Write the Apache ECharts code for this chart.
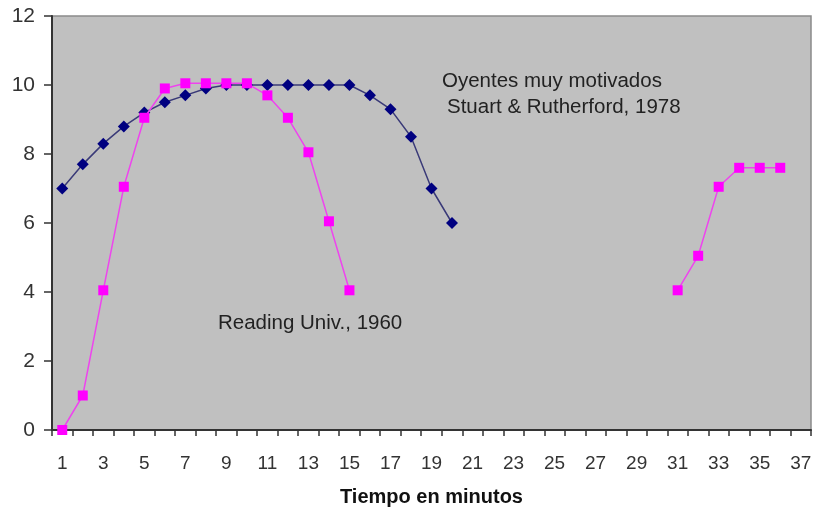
<!DOCTYPE html>
<html>
<head>
<meta charset="utf-8">
<script src="https://cdn.jsdelivr.net/npm/echarts@6/dist/echarts.min.js"></script>
<style>
html,body{margin:0;padding:0;background:#fff;}
#c{width:814px;height:508px;}
</style>
</head>
<body>
<div id="c"></div>
<script>
const minutes = [];
for (let i = 1; i <= 37; i++) minutes.push(String(i));

const motivados = [7.0, 7.7, 8.3, 8.8, 9.2, 9.5, 9.7, 9.9, 10, 10, 10, 10, 10, 10, 10, 9.7, 9.3, 8.5, 7.0, 6.0,
  null, null, null, null, null, null, null, null, null, null, null, null, null, null, null, null, null];

const reading = [0, 1.0, 4.05, 7.05, 9.05, 9.9, 10.05, 10.05, 10.05, 10.05, 9.7, 9.05, 8.05, 6.05, 4.05,
  null, null, null, null, null, null, null, null, null, null, null, null, null, null, null,
  4.05, 5.05, 7.05, 7.6, 7.6, 7.6, null];

const yTicks = { min: 0, max: 12, interval: 2 };

const FONT = '"Liberation Sans", Arial, sans-serif';
const chart = echarts.init(document.getElementById('c'), null, { renderer: 'canvas' });
chart.setOption({
  animation: false,
  backgroundColor: '#ffffff',
  grid: {
    left: 52, right: 3, top: 16, bottom: 78,
    outerBoundsMode: 'none',
    containLabel: false,
    show: true, backgroundColor: '#c0c0c0', borderColor: '#8a8a8a', borderWidth: 1.5
  },
  xAxis: {
    type: 'category',
    data: minutes,
    boundaryGap: true,
    name: 'Tiempo en minutos',
    nameLocation: 'middle',
    nameGap: 57,
    nameTextStyle: { fontFamily: FONT, fontSize: 20, fontWeight: 'bold', color: '#111' },
    axisLine: { lineStyle: { color: '#333', width: 2 } },
    axisTick: { show: true, interval: 0, length: 6, lineStyle: { color: '#333', width: 1.5 } },
    axisLabel: { interval: 1, margin: 24, fontFamily: FONT, fontSize: 19, color: '#333' },
    splitLine: { show: false }
  },
  yAxis: {
    type: 'value',
    min: yTicks.min, max: yTicks.max, interval: yTicks.interval,
    axisLine: { show: true, lineStyle: { color: '#333', width: 2 } },
    axisTick: { show: true, length: 8, lineStyle: { color: '#333', width: 1.5 } },
    axisLabel: { margin: 17, fontFamily: FONT, fontSize: 21, color: '#333' },
    splitLine: { show: false }
  },
  series: [
    {
      name: 'Oyentes muy motivados',
      type: 'line',
      data: motivados,
      connectNulls: false,
      symbol: 'diamond',
      symbolSize: 12,
      itemStyle: { color: '#000080' },
      lineStyle: { color: '#3a3a78', width: 1.5 },
      z: 3
    },
    {
      name: 'Reading Univ., 1960',
      type: 'line',
      data: reading,
      connectNulls: false,
      symbol: 'rect',
      symbolSize: 10,
      itemStyle: { color: '#ff00ff' },
      lineStyle: { color: '#ee44ee', width: 1.5 },
      z: 4
    }
  ],
  graphic: [
    { type: 'text', left: 442, top: 71, style: { text: 'Oyentes muy motivados', font: '20.5px ' + FONT, fill: '#222' } },
    { type: 'text', left: 447, top: 97, style: { text: 'Stuart & Rutherford, 1978', font: '20.5px ' + FONT, fill: '#222' } },
    { type: 'text', left: 218, top: 313, style: { text: 'Reading Univ., 1960', font: '20.5px ' + FONT, fill: '#222' } }
  ]
});
</script>
</body>
</html>
